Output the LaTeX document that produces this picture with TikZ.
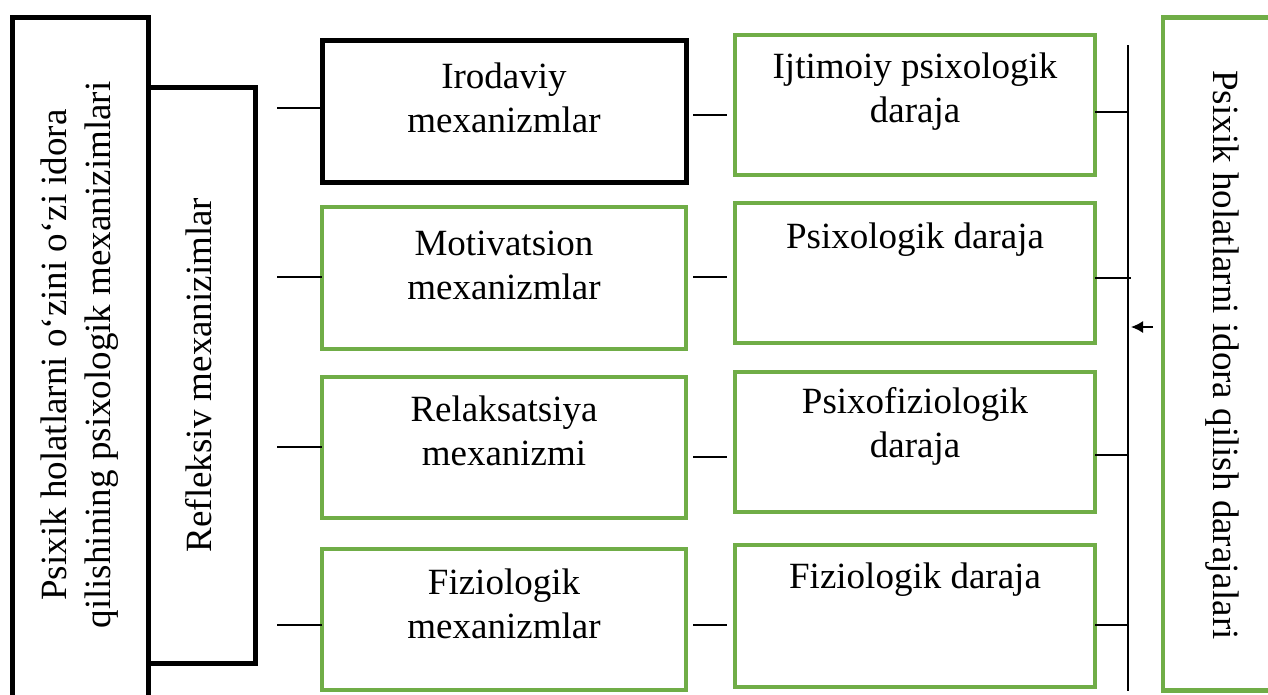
\documentclass[tikz,border=0pt]{standalone}
\usepackage{fontspec}
\setmainfont{Liberation Serif}
\usetikzlibrary{arrows.meta}
\definecolor{grn}{HTML}{70AD47}
\begin{document}
\begin{tikzpicture}[x=1pt,y=-1pt,
  box/.style={rectangle,inner sep=0pt,outer sep=0pt},
  blackbox/.style={box,draw=black,line width=5pt},
  greenbox/.style={box,draw=grn,line width=4.5pt},
  txt/.style={align=center,inner sep=0pt,font=\fontsize{37}{44}\selectfont},
  link/.style={line width=1.5pt,black}]
\useasboundingbox (0,0) rectangle (1268,694);
% left column boxes
\node[blackbox,minimum width=136pt,minimum height=703pt] (outer) at (80,368.5) {};
\node[blackbox,minimum width=107pt,minimum height=576pt] (refl) at (201.5,375) {};
\node[txt,rotate=90] (outertxt) at (80,355) {Psixik holatlarni o‘zini o‘zi idora\\qilishining psixologik mexanizimlari};
\node[txt,rotate=90] (refltxt) at (199,375) {Refleksiv mexanizimlar};
% middle column
\node[blackbox,minimum width=364pt,minimum height=142pt] (m1) at (504,111) {};
\node[greenbox,minimum width=364pt,minimum height=142pt] (m2) at (504,278) {};
\node[greenbox,minimum width=364pt,minimum height=141pt] (m3) at (504,447.5) {};
\node[greenbox,minimum width=364pt,minimum height=141pt] (m4) at (504,619.5) {};
\node[txt] (m1t) at (504,98) {Irodaviy\\mexanizmlar};
\node[txt] (m2t) at (504,265) {Motivatsion\\mexanizmlar};
\node[txt] (m3t) at (504,431) {Relaksatsiya\\mexanizmi};
\node[txt] (m4t) at (504,604) {Fiziologik\\mexanizmlar};
% right column
\node[greenbox,minimum width=360pt,minimum height=140pt] (r1) at (915,105) {};
\node[greenbox,minimum width=360pt,minimum height=140pt] (r2) at (915,273) {};
\node[greenbox,minimum width=360pt,minimum height=140pt] (r3) at (915,442) {};
\node[greenbox,minimum width=360pt,minimum height=142pt] (r4) at (915,616) {};
\node[txt] (r1t) at (915,91.5) {Ijtimoiy psixologik\\daraja};
\node[txt] (r2t) at (915,240) {Psixologik daraja};
\node[txt] (r3t) at (915,426.5) {Psixofiziologik\\daraja};
\node[txt] (r4t) at (915,580) {Fiziologik daraja};
% right big box
\node[greenbox,minimum width=137pt,minimum height=673pt] (rbig) at (1231.5,354) {};
\node[txt,rotate=-90] (rbigtxt) at (1222,355) {Psixik holatlarni idora qilish darajalari};
% left connectors
\coordinate (l1) at (277,108);
\coordinate (l2) at (277,277);
\coordinate (l3) at (277,447);
\coordinate (l4) at (277,625);
\draw[link] (l1) -- (m1.west |- l1);
\draw[link] (l2) -- (m2.west |- l2);
\draw[link] (l3) -- (m3.west |- l3);
\draw[link] (l4) -- (m4.west |- l4);
% middle connectors
\draw[link] ([xshift=7pt]m1.east |- 0,115) -- ([xshift=-8pt]r1.west |- 0,115);
\draw[link] ([xshift=7pt]m2.east |- 0,277) -- ([xshift=-8pt]r2.west |- 0,277);
\draw[link] ([xshift=7pt]m3.east |- 0,457) -- ([xshift=-8pt]r3.west |- 0,457);
\draw[link] ([xshift=7pt]m4.east |- 0,625) -- ([xshift=-8pt]r4.west |- 0,625);
% bus
\coordinate (bt) at (1128,45);
\coordinate (bb) at (1128,691);
\draw[link] (bt) -- (bb);
\coordinate (b1) at (1128,112);
\coordinate (b2) at (1131,278);
\coordinate (b3) at (1128,455);
\coordinate (b4) at (1128,625);
\draw[link] (r1.east |- b1) -- (b1);
\draw[link] (r2.east |- b2) -- (b2);
\draw[link] (r3.east |- b3) -- (b3);
\draw[link] (r4.east |- b4) -- (b4);
% arrow
\coordinate (a1) at (1153,327);
\coordinate (a2) at (1131,327);
\draw[link,-{Latex[length=12pt,width=12pt]}] (a1) -- (a2);
\end{tikzpicture}
\end{document}
